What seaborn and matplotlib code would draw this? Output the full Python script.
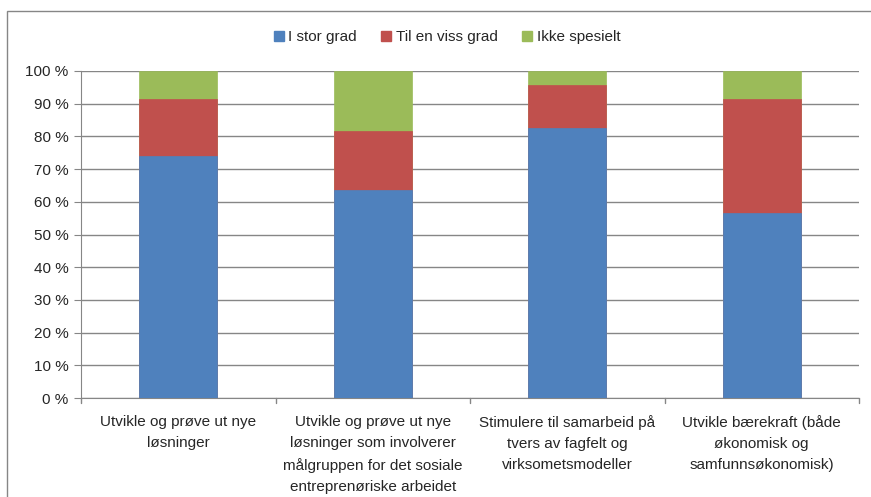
import matplotlib.pyplot as plt
import matplotlib.patches as patches
import numpy as np
import pandas as pd
import seaborn as sns

categories = [
    "Utvikle og prøve ut nye\nløsninger",
    "Utvikle og prøve ut nye\nløsninger som involverer\nmålgruppen for det sosiale\nentreprenøriske arbeidet",
    "Stimulere til samarbeid på\ntvers av fagfelt og\nvirksometsmodeller",
    "Utvikle bærekraft (både\nøkonomisk og\nsamfunnsøkonomisk)",
]
i_stor_grad = [73.9, 63.6, 82.6, 56.5]
til_en_viss_grad = [17.4, 18.2, 13.0, 34.8]
ikke_spesielt = [8.7, 18.2, 4.4, 8.7]
series_names = ["I stor grad", "Til en viss grad", "Ikke spesielt"]
colors = ["#4F81BD", "#C0504D", "#9BBB59"]

sns.set_style("white")
plt.rcParams["font.family"] = ["Liberation Sans", "DejaVu Sans"]

df = pd.DataFrame({
    "kat": categories,
    "s1": i_stor_grad,
    "s2": np.add(i_stor_grad, til_en_viss_grad),
    "s3": np.add(np.add(i_stor_grad, til_en_viss_grad), ikke_spesielt),
})

fig = plt.figure(figsize=(8.71, 4.97), dpi=100)
ax = fig.add_axes([81 / 871, 1 - 398 / 497, (859 - 81) / 871, (398 - 71) / 497])

# tegn bakfra: total, så blå+rød, så blå
for col, c in zip(["s3", "s2", "s1"], colors[::-1]):
    sns.barplot(data=df, x="kat", y=col, color=c, width=0.4, ax=ax,
                saturation=1, edgecolor=c, linewidth=0.5, zorder=3)

ax.set_ylim(0, 100)
ax.set_xlim(-0.5, 3.5)
ax.set_yticks(np.arange(0, 101, 10))
ax.set_yticklabels([f"{v} %" for v in range(0, 101, 10)], fontsize=11)
ax.set_xticks(range(4))
ax.set_xticklabels(categories, fontsize=11, linespacing=1.65)
ax.tick_params(axis="x", length=0, pad=12)
ax.tick_params(axis="y", length=5, color="#868686", left=True, pad=4)
ax.set_xlabel("")
ax.set_ylabel("")
ax.yaxis.grid(True, color="#868686", linewidth=1, zorder=0)
ax.set_axisbelow(True)
for s in ["top", "right"]:
    ax.spines[s].set_visible(False)
ax.spines["left"].set_color("#868686")
ax.spines["bottom"].set_color("#868686")

# små streker mellom kategoriene
for xb in np.arange(-0.5, 3.6, 1.0):
    ax.plot([xb, xb], [0, -1.6], color="#868686", lw=1, clip_on=False)

handles = [patches.Patch(color=c, label=n) for c, n in zip(colors, series_names)]
fig.legend(handles=handles, loc="center", bbox_to_anchor=(447 / 871, 1 - 37 / 497),
           ncol=3, frameon=False, fontsize=11, handlelength=0.65, handleheight=0.65,
           handletextpad=0.3, columnspacing=1.6)

# ramme rundt diagrammet
fig.patches.append(patches.Rectangle((7 / 871, -0.1), 1.2, 1 - 11 / 497 + 0.1,
                                     transform=fig.transFigure, fill=False,
                                     edgecolor="#868686", lw=1))

fig.savefig("out.png", dpi=100)
